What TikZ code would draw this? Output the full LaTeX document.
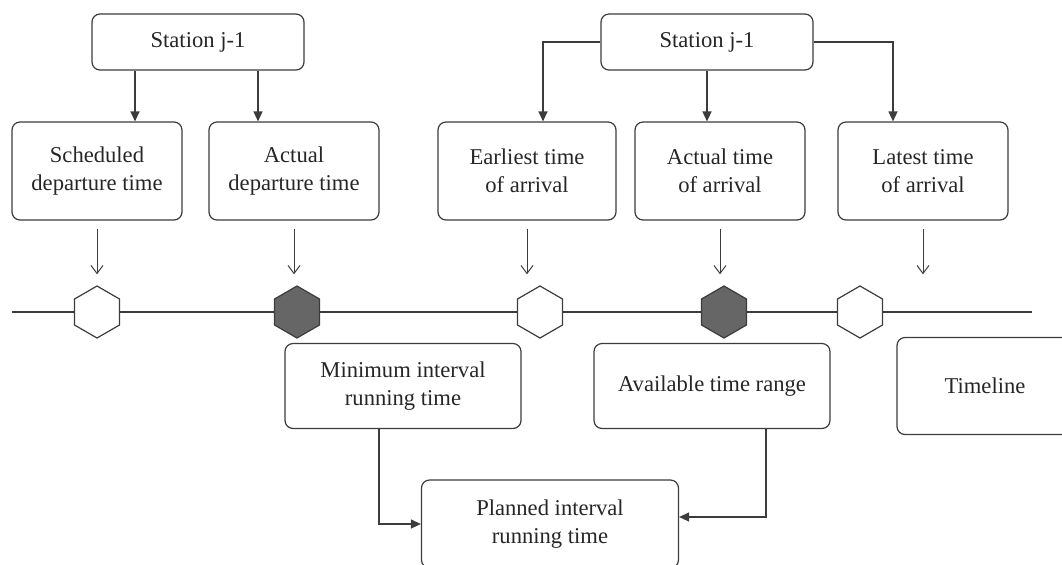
\documentclass[tikz,border=0pt]{standalone}
\usepackage{fontspec}
\setmainfont{Liberation Serif}
\usetikzlibrary{arrows.meta,shapes.geometric}
\definecolor{linec}{HTML}{3C3C3C}
\definecolor{hexdark}{HTML}{666666}

\begin{document}
\begin{tikzpicture}[x=0.5pt,y=-0.5pt,
  box/.style={draw=linec,rounded corners=4pt,align=center,text=black!85,font=\fontsize{11.3}{14}\selectfont,line width=0.6pt,inner sep=0pt},
  arr/.style={-{Triangle[length=5pt,width=4.5pt]},draw=linec,line width=0.6pt},
  tl/.style={-{Straight Barb[length=4pt,width=6pt]},draw=linec,line width=0.5pt,shorten >=5.5pt},
  hexw/.style={regular polygon,regular polygon sides=6,shape border rotate=30,minimum size=26pt,inner sep=0pt,draw=linec,line width=0.6pt,fill=white},
  hexd/.style={hexw,fill=hexdark}]
\useasboundingbox (0,0) rectangle (1062,564);
\clip (0,0) rectangle (1062,564);
% stations
\node[box,minimum width=106pt,minimum height=28pt] (st1) at (198,42) {Station j-1};
\node[box,minimum width=106pt,minimum height=28pt] (st2) at (707,42) {Station j-1};
% departure and arrival times
\node[box,minimum width=85pt,minimum height=49pt] (sched) at (97,171) {Scheduled\\departure time};
\node[box,minimum width=85pt,minimum height=49pt] (actdep) at (294,171) {Actual\\departure time};
\node[box,minimum width=89pt,minimum height=49pt] (earl) at (527,171) {Earliest time\\of arrival};
\node[box,minimum width=85pt,minimum height=49pt] (actarr) at (720,171) {Actual time\\of arrival};
\node[box,minimum width=85pt,minimum height=49pt] (late) at (923,171) {Latest time\\of arrival};
% station arrows
\draw[arr] ([xshift=-31.5pt]st1.south) -- ([xshift=-31.5pt]st1.south |- sched.north);
\draw[arr] ([xshift=30pt]st1.south) -- ([xshift=30pt]st1.south |- actdep.north);
\draw[arr] (st2.west) -| ([xshift=8pt]earl.north);
\draw[arr] (st2.south) -- (st2.south |- actarr.north);
\draw[arr] (st2.east) -| ([xshift=-15pt]late.north);
% timeline
\draw[linec,line width=0.6pt] (12,312) -- (1032,312);
\node[hexw] (h1) at (97,312) {};
\node[hexd] (h2) at (297,312) {};
\node[hexw] (h3) at (540,312) {};
\node[hexd] (h4) at (724,312) {};
\node[hexw] (h5) at (860,312) {};
\draw[tl] ([yshift=-4pt]sched.south) -- (sched.south |- h1.north);
\draw[tl] ([yshift=-4pt]actdep.south) -- (actdep.south |- h2.north);
\draw[tl] ([yshift=-4pt]earl.south) -- (earl.south |- h3.north);
\draw[tl] ([yshift=-4pt]actarr.south) -- (actarr.south |- h4.north);
\draw[tl] ([yshift=-4pt]late.south) -- (late.south |- h5.north);
% running times
\node[box,minimum width=118pt,minimum height=42.5pt] (mint) at (403,386) {Minimum interval\\running time};
\node[box,minimum width=118pt,minimum height=42.5pt] (avail) at (712,386) {Available time range};
\node[box,minimum width=88pt,minimum height=48.5pt] (tline) at (985,386) {Timeline};
\node[box,minimum width=128.5pt,minimum height=44pt] (plan) at (550,524) {Planned interval\\running time};
\draw[arr] ([xshift=-12pt]mint.south) |- (plan.west);
\draw[arr] ([xshift=27pt]avail.south) |- ([yshift=3.5pt]plan.east);
\end{tikzpicture}
\end{document}
